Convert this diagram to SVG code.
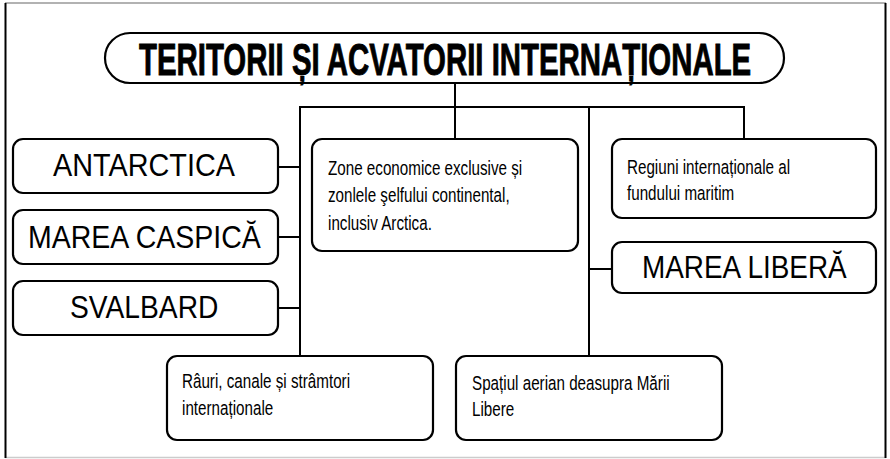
<svg xmlns="http://www.w3.org/2000/svg" width="890" height="459" viewBox="0 0 890 459">
<style>
.box{fill:#fff;stroke:#000;stroke-width:2.2}
.con{fill:none;stroke:#000;stroke-width:2}
.big{font-family:"Liberation Sans",Arial,sans-serif;font-size:31px;fill:#000}
.sm{font-family:"Liberation Sans",Arial,sans-serif;font-size:19.5px;fill:#000}
.title{font-family:"Liberation Sans",Arial,sans-serif;font-weight:bold;font-size:44px;fill:#000;stroke:#000;stroke-width:0.9}
</style>
<rect x="0" y="0" width="890" height="459" fill="#fff"/>
<g id="frame">
<line x1="5" y1="3" x2="886" y2="3" stroke="#999" stroke-width="1.5"/>
<line x1="5" y1="457.5" x2="886" y2="457.5" stroke="#ccc" stroke-width="1.5"/>
<line x1="5.5" y1="3" x2="5.5" y2="458" stroke="#000" stroke-width="2"/>
<line x1="885.5" y1="3" x2="885.5" y2="458" stroke="#000" stroke-width="2"/>
</g>
<g id="connectors">
<line class="con" x1="455" y1="83" x2="455" y2="107"/>
<line class="con" x1="300" y1="107" x2="744" y2="107"/>
<line class="con" x1="300" y1="106" x2="300" y2="356"/>
<line class="con" x1="455" y1="107" x2="455" y2="139"/>
<line class="con" x1="589" y1="106" x2="589" y2="356"/>
<line class="con" x1="744" y1="106" x2="744" y2="139"/>
<line class="con" x1="278" y1="167" x2="300" y2="167"/>
<line class="con" x1="278" y1="237" x2="300" y2="237"/>
<line class="con" x1="278" y1="308" x2="300" y2="308"/>
<line class="con" x1="589" y1="269" x2="612" y2="269"/>
</g>
<g id="title">
<rect class="box" x="105" y="33" width="679" height="50" rx="25"/>
<text class="title" transform="translate(139,74.5) scale(0.668,1)">TERITORII ȘI ACVATORII INTERNAȚIONALE</text>
</g>
<g id="antarctica">
<rect class="box" x="13" y="139" width="265" height="54" rx="10"/>
<text class="big" transform="translate(53,176) scale(0.93,1)">ANTARCTICA</text>
</g>
<g id="marea-caspica">
<rect class="box" x="13" y="210" width="265" height="54" rx="10"/>
<text class="big" transform="translate(28,248) scale(0.92,1)">MAREA CASPICĂ</text>
</g>
<g id="svalbard">
<rect class="box" x="13" y="281" width="265" height="54" rx="10"/>
<text class="big" transform="translate(70,318) scale(0.91,1)">SVALBARD</text>
</g>
<g id="zone">
<rect class="box" x="312" y="139" width="266" height="112" rx="10"/>
<text class="sm" transform="translate(328,175) scale(0.78,1)">Zone economice exclusive și</text>
<text class="sm" transform="translate(328,202) scale(0.78,1)">zonlele şelfului continental,</text>
<text class="sm" transform="translate(328,230) scale(0.78,1)">inclusiv Arctica.</text>
</g>
<g id="regiuni">
<rect class="box" x="612" y="139" width="264" height="79" rx="10"/>
<text class="sm" transform="translate(627,174) scale(0.78,1)">Regiuni internaționale al</text>
<text class="sm" transform="translate(627,200) scale(0.78,1)">fundului maritim</text>
</g>
<g id="marea-libera">
<rect class="box" x="612" y="242" width="264" height="51" rx="10"/>
<text class="big" transform="translate(642,278) scale(0.9,1)">MAREA LIBERĂ</text>
</g>
<g id="rauri">
<rect class="box" x="167" y="356" width="266" height="84" rx="10"/>
<text class="sm" transform="translate(182,388) scale(0.78,1)">Râuri, canale și strâmtori</text>
<text class="sm" transform="translate(182,415) scale(0.78,1)">internaționale</text>
</g>
<g id="spatiul">
<rect class="box" x="456" y="356" width="266" height="84" rx="10"/>
<text class="sm" transform="translate(472,390) scale(0.78,1)">Spațiul aerian deasupra Mării</text>
<text class="sm" transform="translate(472,416) scale(0.78,1)">Libere</text>
</g>
</svg>
